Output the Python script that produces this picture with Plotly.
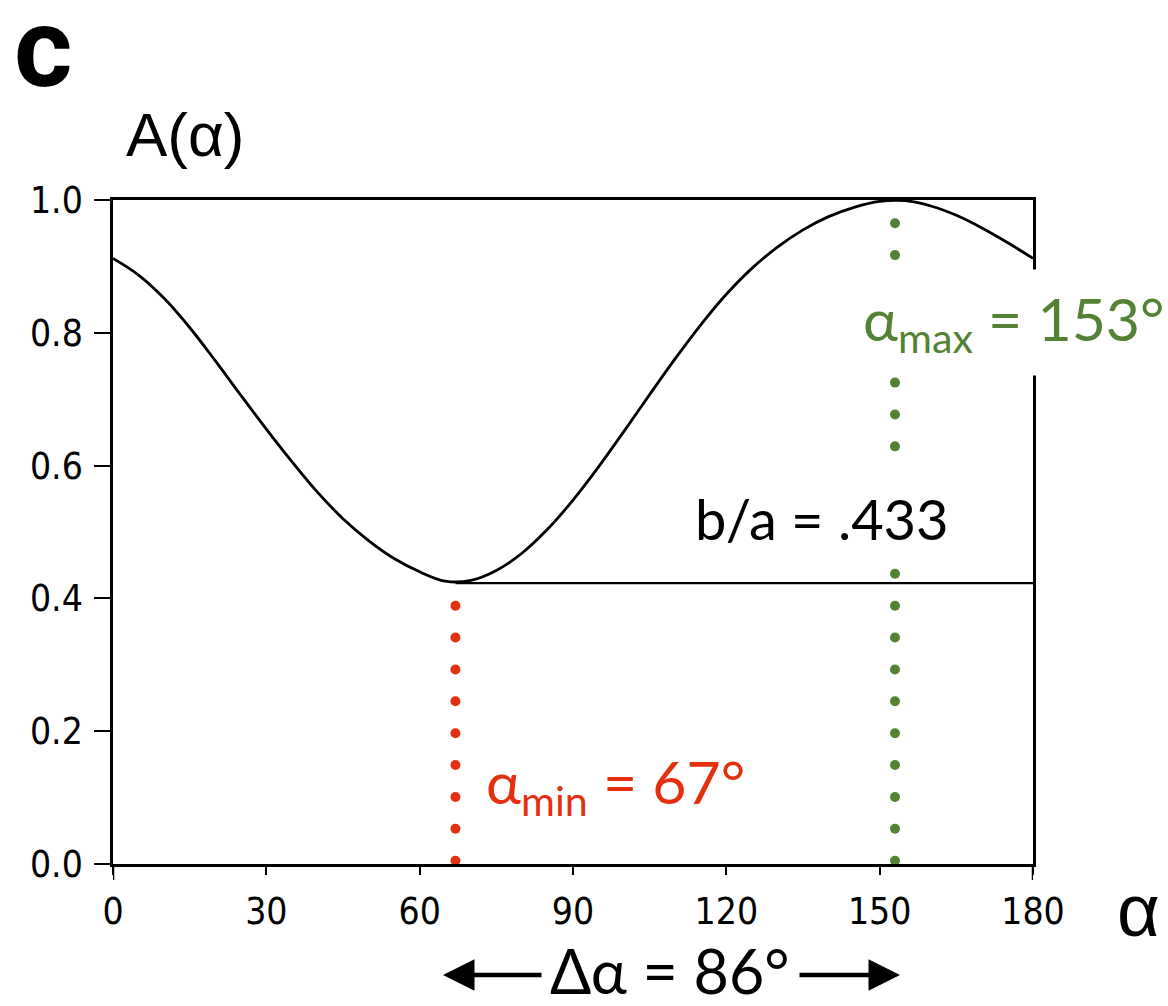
import plotly.graph_objects as go

# ---------------- data ----------------
alpha = [0, 5, 10, 15, 20, 25, 30, 35, 40, 45, 50, 55, 60, 65, 70, 75, 80, 85,
         90, 95, 100, 105, 110, 115, 120, 125, 130, 135, 140, 145, 150, 155,
         160, 165, 170, 175, 180]
A_values = [0.912, 0.887, 0.852, 0.808, 0.758, 0.706, 0.655, 0.606, 0.560, 0.520,
            0.487, 0.460, 0.440, 0.426, 0.427, 0.442, 0.468, 0.504,
            0.548, 0.598, 0.652, 0.707, 0.761, 0.812, 0.858, 0.897, 0.929, 0.955,
            0.975, 0.989, 0.998, 0.999, 0.991, 0.977, 0.958, 0.936, 0.912]

alpha_min = 67
alpha_max = 153
min_level = 0.423
ba_text = "b/a = .433"
delta_text = "Δα = 86°"

x_ticks = [0, 30, 60, 90, 120, 150, 180]
y_ticks = [0.0, 0.2, 0.4, 0.6, 0.8, 1.0]
y_ticktext = ["0.0", "0.2", "0.4", "0.6", "0.8", "1.0"]

# dotted marker levels (visible dots)
min_dots = [0.005, 0.053, 0.101, 0.149, 0.197, 0.245, 0.293, 0.341, 0.389]
max_dots = [0.005, 0.053, 0.101, 0.149, 0.197, 0.245, 0.293, 0.341, 0.389,
            0.437, 0.629, 0.677, 0.725, 0.917, 0.965]

RED = "#E4300F"
GREEN = "#548235"

# ---------------- layout helpers ----------------
L, R, T, B = 113, 1033, 200, 864
def px(p):
    return (p - L) / (R - L)
def py(p):
    return (B - p) / (B - T)

TICK_FONT = "DejaVu Sans Condensed, Liberation Sans Narrow, DejaVu Sans, sans-serif"
LABEL_FONT = "Lato, Open Sans, sans-serif"
HEL = "Liberation Sans, Arial, sans-serif"

fig = go.Figure()

fig.add_trace(go.Scatter(x=alpha, y=A_values, mode="lines",
                         line=dict(color="black", width=2.8, shape="spline"),
                         hoverinfo="skip", showlegend=False))

fig.add_trace(go.Scatter(x=[alpha_min, 180], y=[min_level, min_level], mode="lines",
                         line=dict(color="black", width=2.4),
                         hoverinfo="skip", showlegend=False))

fig.add_trace(go.Scatter(x=[alpha_min] * len(min_dots), y=min_dots, mode="markers",
                         marker=dict(color=RED, size=10), cliponaxis=False,
                         hoverinfo="skip", showlegend=False))
fig.add_trace(go.Scatter(x=[alpha_max] * len(max_dots), y=max_dots, mode="markers",
                         marker=dict(color=GREEN, size=10), cliponaxis=False,
                         hoverinfo="skip", showlegend=False))

annotations = [
    dict(text="<b>c</b>", xref="paper", yref="paper", x=px(12), y=py(47),
         xanchor="left", yanchor="middle", showarrow=False,
         font=dict(family="Roboto, Liberation Sans, sans-serif", size=112,
                   color="black", weight=900)),
    dict(text="A(α)", xref="paper", yref="paper", x=px(124), y=py(135),
         xanchor="left", yanchor="middle", showarrow=False,
         font=dict(family=HEL, size=62, color="black")),
    dict(text="α", xref="paper", yref="paper", x=px(1115), y=py(910),
         xanchor="left", yanchor="middle", showarrow=False,
         font=dict(family=HEL, size=74, color="black")),
    dict(text=ba_text, xref="paper", yref="paper", x=px(822), y=py(518),
         xanchor="center", yanchor="middle", showarrow=False,
         font=dict(family=LABEL_FONT, size=56, color="black")),
    dict(text="α<sub>max</sub> = 153°", xref="paper", yref="paper", x=px(849), y=py(322),
         xanchor="left", yanchor="middle", showarrow=False,
         bgcolor="white", borderpad=13,
         font=dict(family=LABEL_FONT, size=59, color=GREEN)),
    dict(text="α<sub>min</sub> = 67°", xref="paper", yref="paper", x=px(484), y=py(785),
         xanchor="left", yanchor="middle", showarrow=False,
         font=dict(family=LABEL_FONT, size=59, color=RED)),
    dict(text=delta_text, xref="paper", yref="paper", x=px(670), y=py(970),
         xanchor="center", yanchor="middle", showarrow=False,
         font=dict(family=LABEL_FONT, size=61, color="black")),
    # arrows
    dict(text="", xref="paper", yref="paper", x=px(443), y=py(975),
         ax=100, ay=0, axref="pixel", ayref="pixel", showarrow=True,
         arrowhead=2, arrowsize=1.4, arrowwidth=4.5, arrowcolor="black", standoff=0),
    dict(text="", xref="paper", yref="paper", x=px(900), y=py(975),
         ax=-102, ay=0, axref="pixel", ayref="pixel", showarrow=True,
         arrowhead=2, arrowsize=1.4, arrowwidth=4.5, arrowcolor="black", standoff=0),
]

shapes = [
    dict(type="line", xref="x", yref="paper", x0=0, x1=0, y0=0, y1=py(880),
         line=dict(color="black", width=2.5)),
    dict(type="line", xref="x", yref="paper", x0=180, x1=180, y0=0, y1=py(880),
         line=dict(color="black", width=2.5)),
]

fig.update_layout(
    width=1168, height=1006,
    margin=dict(l=L, r=1168 - R, t=T, b=1006 - B),
    paper_bgcolor="white", plot_bgcolor="white",
    annotations=annotations, shapes=shapes,
    xaxis=dict(range=[0, 180], tickvals=x_ticks, ticks="outside", ticklen=8,
               tickwidth=2, tickcolor="black", showline=True, linewidth=2.5,
               linecolor="black", mirror=True, showgrid=False, zeroline=False,
               tickfont=dict(family=TICK_FONT, size=37, color="black"),
               ticklabelstandoff=5),
    yaxis=dict(range=[0, 1], tickvals=y_ticks, ticktext=y_ticktext, ticks="outside",
               ticklen=16, tickwidth=2, tickcolor="black", showline=True,
               linewidth=2.5, linecolor="black", mirror=True, showgrid=False,
               zeroline=False,
               tickfont=dict(family=TICK_FONT, size=37, color="black"),
               ticklabelstandoff=4),
)

fig.write_html("out.html")
